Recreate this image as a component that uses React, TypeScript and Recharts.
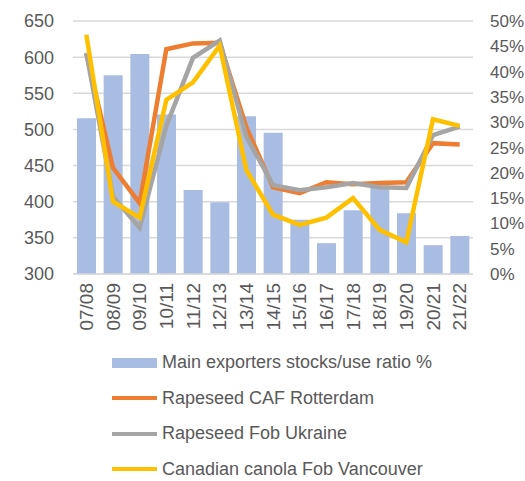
import React from "react";
import {
    ComposedChart, Bar, Line, XAxis, YAxis, CartesianGrid,
} from "recharts";

// ─── Data ────────────────────────────────────────────────────────────────────

const seasons = [
    "07/08", "08/09", "09/10", "10/11", "11/12", "12/13", "13/14", "14/15",
    "15/16", "16/17", "17/18", "18/19", "19/20", "20/21", "21/22",
];

// main exporters stocks/use ratio, % (right axis)
const stocksUse = [30.8, 39.3, 43.5, 31.5, 16.6, 14.2, 31.2, 27.9, 10.7, 6.1, 12.6, 17.5, 12, 5.7, 7.5];

// prices, left axis
const cafRotterdam = [605, 447, 398, 611, 619, 620, 503, 420, 412, 427, 424, 426, 427, 481, 479];
const fobUkraine = [606, 407, 364, 505, 599, 623, 490, 423, 416, 420, 426, 420, 419, 492, 504];
const canolaVancouver = [631, 400, 378, 541, 565, 616, 444, 382, 368, 378, 405, 361, 344, 514, 505];

const leftTicks = [300, 350, 400, 450, 500, 550, 600, 650];
const rightTicks = [0, 5, 10, 15, 20, 25, 30, 35, 40, 45, 50];

const data = seasons.map((s, i) => ({
    season: s,
    ratio: stocksUse[i],
    caf: cafRotterdam[i],
    ukr: fobUkraine[i],
    can: canolaVancouver[i],
}));

const FONT = "'Liberation Sans', Arial, sans-serif";
const TEXT = "#595959";

const legendItems = [
    { label: "Main exporters stocks/use ratio %", color: "#a9bde3", bar: true },
    { label: "Rapeseed CAF Rotterdam", color: "#ed7d31", bar: false },
    { label: "Rapeseed Fob Ukraine", color: "#a5a5a5", bar: false },
    { label: "Canadian canola Fob Vancouver", color: "#ffc000", bar: false },
];

// rotated season labels, reading bottom-to-top
function SeasonTick({ x, y, payload }: any) {
    return (
        <text
            x={x}
            y={y + 1}
            transform={`rotate(-90, ${x}, ${y + 1})`}
            textAnchor="end"
            dominantBaseline="central"
            fill={TEXT}
            fontSize={19}
            fontFamily={FONT}
        >
            {payload.value}
        </text>
    );
}

export default function App() {
    const tick = { fontSize: 18, fill: TEXT, fontFamily: FONT };

    return (
        <div style={{ position: "absolute", left: 0, top: 0, width: 525, height: 481, background: "#fff" }}>
            <ComposedChart
                width={525}
                height={481}
                data={data}
                margin={{ top: 21, right: 0, left: 0, bottom: 137 }}
                barSize={19}
            >
                <CartesianGrid yAxisId="left" vertical={false} stroke="#d9d9d9" strokeWidth={1.5} />
                <XAxis
                    dataKey="season"
                    interval={0}
                    height={70}
                    tick={<SeasonTick />}
                    tickLine={false}
                    axisLine={{ stroke: "#d9d9d9", strokeWidth: 1.5 }}
                />
                <YAxis
                    yAxisId="left"
                    domain={[300, 650]}
                    ticks={leftTicks}
                    width={73}
                    tick={tick}
                    tickLine={false}
                    axisLine={false}
                    tickMargin={13}
                />
                <YAxis
                    yAxisId="right"
                    orientation="right"
                    domain={[0, 50]}
                    ticks={rightTicks}
                    width={52}
                    tick={{ ...tick, fontSize: 17, textAnchor: "start" }}
                    tickFormatter={(v: number) => `${v}%`}
                    tickLine={false}
                    axisLine={false}
                    tickMargin={11}
                />
                <Bar yAxisId="right" dataKey="ratio" fill="#a9bde3" isAnimationActive={false} />
                <Line yAxisId="left" type="linear" dataKey="caf" stroke="#ed7d31" strokeWidth={4.5} dot={false} isAnimationActive={false} />
                <Line yAxisId="left" type="linear" dataKey="ukr" stroke="#a5a5a5" strokeWidth={4.5} dot={false} isAnimationActive={false} />
                <Line yAxisId="left" type="linear" dataKey="can" stroke="#ffc000" strokeWidth={4.5} dot={false} isAnimationActive={false} />
            </ComposedChart>

            <div style={{ position: "absolute", left: 112, top: 345, fontFamily: FONT, fontSize: 18, color: TEXT }}>
                {legendItems.map((it) => (
                    <div key={it.label} style={{ display: "flex", alignItems: "center", height: 35.5 }}>
                        <span
                            style={{
                                display: "inline-block",
                                width: 45,
                                height: it.bar ? 10 : 4,
                                background: it.color,
                                marginRight: 5,
                            }}
                        />
                        <span>{it.label}</span>
                    </div>
                ))}
            </div>
        </div>
    );
}
